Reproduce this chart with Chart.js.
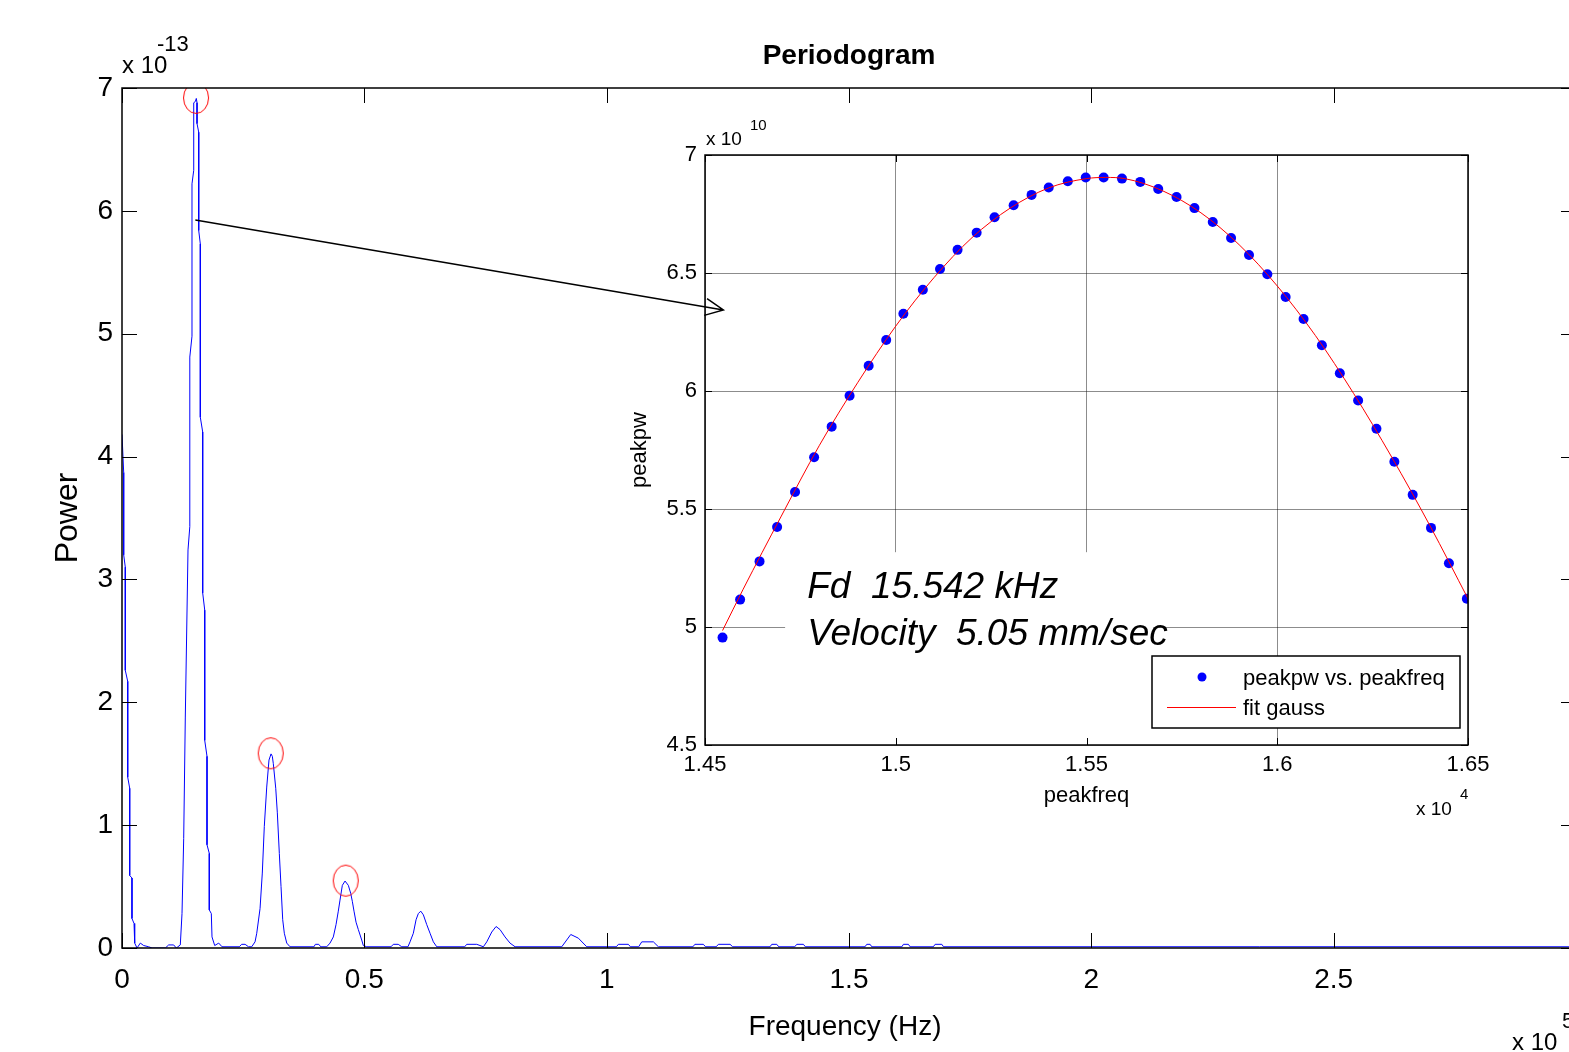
<!DOCTYPE html>
<html>
<head>
<meta charset="utf-8">
<script src="https://cdn.jsdelivr.net/npm/chart.js@4.4.1/dist/chart.umd.min.js"></script>
<style>
  html, body { margin: 0; padding: 0; background: #fff; overflow: hidden; }
  #wrap { position: relative; width: 1569px; height: 1052px; overflow: hidden; background: #fff; }
  #wrap canvas { position: absolute; left: 0; top: 0; }
  #inset { z-index: 1; }
  #main { z-index: 2; pointer-events: none; }
</style>
</head>
<body>
<div id="wrap">
  <canvas id="inset" width="1569" height="1052"></canvas>
  <canvas id="main" width="1600" height="1052"></canvas>
</div>
<script>
const FONT = "'Liberation Sans', Arial, Helvetica, sans-serif";

// periodogram: frequency in units of 1e5 Hz, power in units of 1e-13
const freqX = [
  0.0000, 0.0035, 0.0035, 0.0068, 0.0068, 0.0118, 0.0118, 0.0159, 0.0159, 0.0206,
  0.0206, 0.0248, 0.0262, 0.0310, 0.0378, 0.0448, 0.0550, 0.0620, 0.0894, 0.0963,
  0.1066, 0.1121, 0.1203, 0.1238, 0.1273, 0.1306, 0.1362, 0.1399, 0.1399, 0.1444,
  0.1444, 0.1480, 0.1480, 0.1513, 0.1533, 0.1548, 0.1548, 0.1583, 0.1583, 0.1616,
  0.1616, 0.1665, 0.1665, 0.1707, 0.1707, 0.1754, 0.1754, 0.1801, 0.1801, 0.1843,
  0.1857, 0.1913, 0.1995, 0.2064, 0.2420, 0.2468, 0.2540, 0.2610, 0.2676, 0.2745,
  0.2780, 0.2848, 0.2895, 0.2936, 0.2986, 0.3033, 0.3075, 0.3102, 0.3122, 0.3172,
  0.3205, 0.3246, 0.3281, 0.3316, 0.3349, 0.3399, 0.3467, 0.3960, 0.3990, 0.4060,
  0.4100, 0.4224, 0.4292, 0.4360, 0.4416, 0.4463, 0.4498, 0.4546, 0.4602, 0.4670,
  0.4719, 0.4752, 0.4787, 0.4829, 0.4876, 0.4946, 0.4979, 0.5050, 0.5550, 0.5598,
  0.5700, 0.5772, 0.5900, 0.5943, 0.6011, 0.6067, 0.6114, 0.6164, 0.6218, 0.6288,
  0.6356, 0.6424, 0.6494, 0.7070, 0.7113, 0.7320, 0.7456, 0.7526, 0.7629, 0.7718,
  0.7800, 0.7903, 0.8006, 0.8110, 0.9073, 0.9259, 0.9416, 0.9589, 1.0200, 1.0242,
  1.0448, 1.0490, 1.0660, 1.0724, 1.0964, 1.1067, 1.1780, 1.1820, 1.1995, 1.2040,
  1.2260, 1.2305, 1.2546, 1.2600, 1.3370, 1.3407, 1.3510, 1.3550, 1.3880, 1.3923,
  1.4059, 1.4100, 1.5330, 1.5367, 1.5435, 1.5470, 1.6090, 1.6123, 1.6226, 1.6260,
  1.6740, 1.6777, 1.6915, 1.6950, 3.0000
];
const powerY = [
  4.18, 3.87, 3.20, 3.10, 2.26, 2.17, 1.39, 1.30, 0.59, 0.57,
  0.24, 0.20, 0.04, 0.00, 0.04, 0.02, 0.01, 0.00, 0.00, 0.025,
  0.025, 0.00, 0.025, 0.28, 0.89, 1.88, 3.24, 3.43, 4.81, 4.98,
  6.22, 6.33, 6.88, 6.89, 6.915, 6.88, 6.71, 6.64, 5.84, 5.73,
  4.32, 4.20, 2.89, 2.75, 1.69, 1.56, 0.84, 0.77, 0.31, 0.28,
  0.09, 0.02, 0.04, 0.01, 0.01, 0.03, 0.03, 0.01, 0.01, 0.05,
  0.12, 0.32, 0.61, 0.99, 1.31, 1.53, 1.58, 1.56, 1.50, 1.30,
  1.10, 0.77, 0.50, 0.23, 0.12, 0.04, 0.01, 0.01, 0.03, 0.03,
  0.01, 0.01, 0.04, 0.09, 0.19, 0.30, 0.39, 0.51, 0.545, 0.51,
  0.445, 0.38, 0.30, 0.21, 0.15, 0.065, 0.02, 0.01, 0.01, 0.03,
  0.03, 0.01, 0.01, 0.05, 0.12, 0.23, 0.28, 0.30, 0.27, 0.19,
  0.12, 0.05, 0.01, 0.01, 0.03, 0.03, 0.01, 0.05, 0.13, 0.175,
  0.15, 0.09, 0.04, 0.01, 0.01, 0.11, 0.08, 0.01, 0.01, 0.03,
  0.03, 0.01, 0.01, 0.05, 0.05, 0.01, 0.01, 0.03, 0.03, 0.01,
  0.01, 0.03, 0.03, 0.01, 0.01, 0.03, 0.03, 0.01, 0.01, 0.03,
  0.03, 0.01, 0.01, 0.03, 0.03, 0.01, 0.01, 0.03, 0.03, 0.01,
  0.01, 0.03, 0.03, 0.01, 0.01
];
// peaks circled by findpeaks
const peakX = [0.1527, 0.3068, 0.4616];
const peakY = [6.92, 1.585, 0.548];
const mainXTicks = [0, 0.5, 1, 1.5, 2, 2.5, 3];
const mainYTicks = [0, 1, 2, 3, 4, 5, 6, 7];
// arrow from the big peak into the zoom panel (data units of main axes)
const arrowFrom = [0.1513, 5.925];
const arrowTo = [1.2408, 5.193];

// zoom panel: peak frequency in units of 1e4 Hz, peak power in units of 1e10
const peakFreq = [
  1.4546, 1.4592, 1.4643, 1.4689, 1.4736, 1.4786, 1.4832, 1.4879, 1.4929, 1.4975,
  1.5020, 1.5071, 1.5116, 1.5162, 1.5212, 1.5259, 1.5309, 1.5356, 1.5401, 1.5451,
  1.5498, 1.5545, 1.5593, 1.5641, 1.5688, 1.5736, 1.5783, 1.5831, 1.5879, 1.5926,
  1.5974, 1.6022, 1.6069, 1.6117, 1.6164, 1.6212, 1.6260, 1.6307, 1.6355, 1.6403,
  1.6450, 1.6497
];
const peakPw = [
  4.955, 5.116, 5.278, 5.424, 5.572, 5.719, 5.849, 5.980, 6.107, 6.216,
  6.327, 6.429, 6.517, 6.598, 6.671, 6.736, 6.787, 6.831, 6.862, 6.889,
  6.905, 6.905, 6.900, 6.886, 6.856, 6.822, 6.775, 6.716, 6.648, 6.576,
  6.495, 6.398, 6.305, 6.194, 6.075, 5.960, 5.840, 5.700, 5.560, 5.420,
  5.270, 5.120
];
const fitFreq = [
  1.4546, 1.46, 1.47, 1.48, 1.49, 1.50, 1.51, 1.52, 1.53, 1.54, 1.55,
  1.555, 1.56, 1.57, 1.58, 1.59, 1.60, 1.61, 1.62, 1.63, 1.64, 1.65
];
const fitPw = [
  4.985, 5.16, 5.47, 5.77, 6.035, 6.275, 6.48, 6.65, 6.775, 6.86, 6.90,
  6.905, 6.90, 6.848, 6.755, 6.62, 6.445, 6.235, 5.99, 5.72, 5.43, 5.12
];
const insetXTicks = [1.45, 1.5, 1.55, 1.6, 1.65];
const insetYTicks = [4.5, 5, 5.5, 6, 6.5, 7];
const insetNotes = ['Fd  15.542 kHz', 'Velocity  5.05 mm/sec'];
// white note box in zoom-panel data units: [x0, x1, yTop]
const noteBox = [1.471, 1.5675, 5.317];
const noteAt = [1.4768, 5.122, 4.923];

const toPts = (xs, ys) => xs.map((x, i) => ({ x: x, y: ys[i] }));
const fmt = v => String(+v.toFixed(3));

function label(ctx, s, x, y, font, align, rot) {
  ctx.save();
  ctx.font = font;
  ctx.fillStyle = '#000';
  ctx.textAlign = align || 'left';
  ctx.textBaseline = 'alphabetic';
  ctx.translate(x, y);
  if (rot) ctx.rotate(rot);
  ctx.fillText(s, 0, 0);
  ctx.restore();
}

// matlab style box with ticks pointing inwards
function boxAndTicks(chart, len, width) {
  const { ctx, chartArea: a, scales: { x, y } } = chart;
  ctx.save();
  ctx.strokeStyle = '#000';
  ctx.lineWidth = 1;
  ctx.beginPath();
  x.ticks.forEach(t => {
    const px = Math.round(x.getPixelForValue(t.value)) + 0.5;
    ctx.moveTo(px, a.bottom); ctx.lineTo(px, a.bottom - len);
    ctx.moveTo(px, a.top); ctx.lineTo(px, a.top + len);
  });
  y.ticks.forEach(t => {
    const py = Math.round(y.getPixelForValue(t.value)) + 0.5;
    ctx.moveTo(a.left, py); ctx.lineTo(a.left + len, py);
    ctx.moveTo(a.right, py); ctx.lineTo(a.right - len, py);
  });
  ctx.stroke();
  ctx.lineWidth = width;
  ctx.strokeRect(a.left, a.top, a.right - a.left, a.bottom - a.top);
  ctx.restore();
}

// red ring used as the peak marker
const ring = document.createElement('canvas');
ring.width = 28; ring.height = 34;
const rc = ring.getContext('2d');
rc.strokeStyle = '#ff0000';
rc.lineWidth = 1;
rc.beginPath();
rc.ellipse(14, 17, 12.5, 15.5, 0, 0, Math.PI * 2);
rc.stroke();

new Chart(document.getElementById('main'), {
  type: 'scatter',
  data: {
    datasets: [
      {
        label: 'peaks',
        data: toPts(peakX, peakY),
        pointStyle: ring,
        pointRadius: 14,
        showLine: false
      },
      {
        label: 'periodogram',
        data: toPts(freqX, powerY),
        showLine: true,
        borderColor: '#0000ff',
        borderWidth: 1,
        pointRadius: 0,
        tension: 0
      }
    ]
  },
  options: {
    responsive: false,
    animation: false,
    events: [],
    layout: { padding: { left: 0, top: 88, right: 24, bottom: 0 } },
    plugins: { legend: { display: false }, tooltip: { enabled: false } },
    scales: {
      x: {
        type: 'linear', min: 0, max: 3,
        afterFit: s => { s.height = 104; },
        afterBuildTicks: s => { s.ticks = mainXTicks.map(v => ({ value: v })); },
        grid: { display: false, drawTicks: false },
        border: { display: false },
        ticks: {
          autoSkip: false, maxRotation: 0, padding: 15, color: '#000',
          font: { family: FONT, size: 28 },
          callback: v => (v >= 3 ? '' : fmt(v))
        }
      },
      y: {
        type: 'linear', min: 0, max: 7,
        afterFit: s => { s.width = 122; },
        afterBuildTicks: s => { s.ticks = mainYTicks.map(v => ({ value: v })); },
        grid: { display: false, drawTicks: false },
        border: { display: false },
        ticks: { padding: 9, color: '#000', font: { family: FONT, size: 28 }, callback: v => fmt(v) }
      }
    }
  },
  plugins: [{
    id: 'mainDecor',
    afterDraw(chart) {
      const { ctx, chartArea: a, scales: { x, y } } = chart;
      boxAndTicks(chart, 15, 1.5);

      // arrow with an open head
      const x0 = x.getPixelForValue(arrowFrom[0]), y0 = y.getPixelForValue(arrowFrom[1]);
      const x1 = x.getPixelForValue(arrowTo[0]), y1 = y.getPixelForValue(arrowTo[1]);
      const ang = Math.atan2(y1 - y0, x1 - x0);
      const L = 18, W = 8.5;
      const bx = x1 - L * Math.cos(ang), by = y1 - L * Math.sin(ang);
      ctx.save();
      ctx.strokeStyle = '#000';
      ctx.lineWidth = 1.5;
      ctx.beginPath();
      ctx.moveTo(x0, y0); ctx.lineTo(x1, y1);
      ctx.moveTo(bx - W * Math.sin(ang), by + W * Math.cos(ang));
      ctx.lineTo(x1, y1);
      ctx.lineTo(bx + W * Math.sin(ang), by - W * Math.cos(ang));
      ctx.stroke();
      ctx.restore();

      const mid = (a.left + a.right) / 2;
      label(ctx, 'Periodogram', mid, 64, 'bold 28px ' + FONT, 'center');
      label(ctx, 'Frequency (Hz)', 845, 1035, '28px ' + FONT, 'center');
      label(ctx, 'Power', 77, 518, '32px ' + FONT, 'center', -Math.PI / 2);
      label(ctx, 'x 10', 122, 73, '24px ' + FONT);
      label(ctx, '-13', 157, 51, '22px ' + FONT);
      label(ctx, 'x 10', 1512, 1050, '24px ' + FONT);
      label(ctx, '5', 1562, 1028, '22px ' + FONT);
    }
  }]
});

new Chart(document.getElementById('inset'), {
  type: 'scatter',
  data: {
    datasets: [
      {
        label: 'fit gauss',
        data: toPts(fitFreq, fitPw),
        showLine: true,
        borderColor: '#ff0000',
        borderWidth: 1,
        pointRadius: 0,
        cubicInterpolationMode: 'monotone'
      },
      {
        label: 'peakpw vs. peakfreq',
        data: toPts(peakFreq, peakPw),
        showLine: false,
        pointRadius: 5,
        pointBackgroundColor: '#0000ff',
        pointBorderWidth: 0
      }
    ]
  },
  options: {
    responsive: false,
    animation: false,
    events: [],
    layout: { padding: { left: 0, top: 155, right: 101, bottom: 0 } },
    plugins: { legend: { display: false }, tooltip: { enabled: false } },
    scales: {
      x: {
        type: 'linear', min: 1.45, max: 1.65,
        afterFit: s => { s.height = 307; },
        afterBuildTicks: s => { s.ticks = insetXTicks.map(v => ({ value: v })); },
        grid: { color: 'rgba(0,0,0,0.45)', lineWidth: 1, drawTicks: false },
        border: { display: false },
        ticks: {
          autoSkip: false, maxRotation: 0, padding: 7, color: '#000',
          font: { family: FONT, size: 22 }, callback: v => fmt(v)
        }
      },
      y: {
        type: 'linear', min: 4.5, max: 7,
        afterFit: s => { s.width = 705; },
        afterBuildTicks: s => { s.ticks = insetYTicks.map(v => ({ value: v })); },
        grid: { color: 'rgba(0,0,0,0.45)', lineWidth: 1, drawTicks: false },
        border: { display: false },
        ticks: { padding: 8, color: '#000', font: { family: FONT, size: 22 }, callback: v => fmt(v) }
      }
    }
  },
  plugins: [{
    id: 'insetDecor',
    beforeDraw(chart) {
      const { ctx, chartArea: a } = chart;
      ctx.save();
      ctx.fillStyle = '#fff';
      ctx.fillRect(a.left, a.top, a.right - a.left, a.bottom - a.top);
      ctx.restore();
    },
    beforeDatasetsDraw(chart) {
      const { ctx, chartArea: a, scales: { x, y } } = chart;
      const l = x.getPixelForValue(noteBox[0]), r = x.getPixelForValue(noteBox[1]);
      const t = y.getPixelForValue(noteBox[2]);
      ctx.save();
      ctx.fillStyle = '#fff';
      ctx.fillRect(l, t, r - l, a.bottom - t);
      ctx.restore();
      const tx = x.getPixelForValue(noteAt[0]);
      label(ctx, insetNotes[0], tx, y.getPixelForValue(noteAt[1]), 'italic 37px ' + FONT);
      label(ctx, insetNotes[1], tx, y.getPixelForValue(noteAt[2]), 'italic 37px ' + FONT);
    },
    afterDraw(chart) {
      const { ctx, chartArea: a } = chart;
      boxAndTicks(chart, 7, 1.5);

      // legend box
      const ds = chart.data.datasets;
      const dots = ds[1], fit = ds[0];
      const w = 308, h = 72;
      const l = a.right - 8 - w, t = a.bottom - 17 - h;
      ctx.save();
      ctx.fillStyle = '#fff';
      ctx.fillRect(l, t, w, h);
      ctx.strokeStyle = '#000';
      ctx.lineWidth = 1.5;
      ctx.strokeRect(l, t, w, h);
      const r1 = t + 21, r2 = t + h - 21;
      ctx.fillStyle = dots.pointBackgroundColor;
      ctx.beginPath();
      ctx.arc(l + 50, r1, 4.5, 0, Math.PI * 2);
      ctx.fill();
      ctx.strokeStyle = fit.borderColor;
      ctx.lineWidth = 1;
      ctx.beginPath();
      ctx.moveTo(l + 15, r2 + 0.5); ctx.lineTo(l + 84, r2 + 0.5);
      ctx.stroke();
      ctx.restore();
      label(ctx, dots.label, l + 91, r1 + 8, '22px ' + FONT);
      label(ctx, fit.label, l + 91, r2 + 8, '22px ' + FONT);

      // axis names and exponent labels
      label(ctx, 'peakfreq', (a.left + a.right) / 2, 802, '22px ' + FONT, 'center');
      label(ctx, 'peakpw', 646, 450, '22px ' + FONT, 'center', -Math.PI / 2);
      label(ctx, 'x 10', 706, 145, '19px ' + FONT);
      label(ctx, '10', 750, 130, '15px ' + FONT);
      label(ctx, 'x 10', 1416, 815, '19px ' + FONT);
      label(ctx, '4', 1460, 799, '15px ' + FONT);
    }
  }]
});
</script>
</body>
</html>
